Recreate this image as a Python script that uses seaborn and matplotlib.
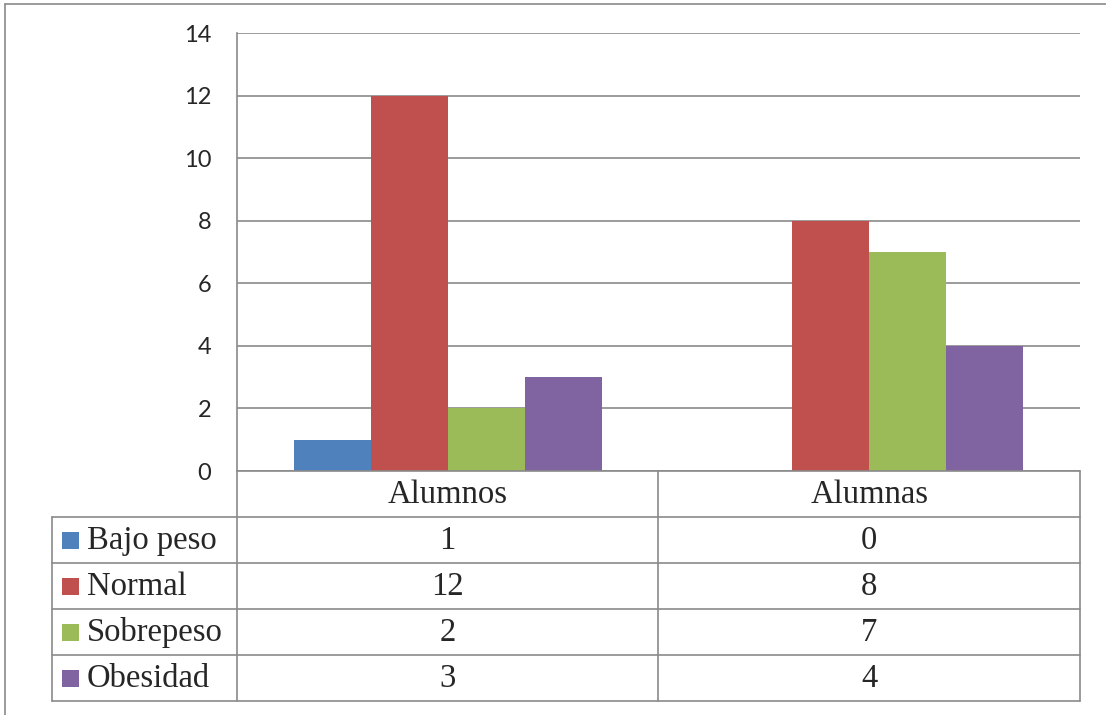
import matplotlib
matplotlib.use("Agg")
import matplotlib.pyplot as plt
from matplotlib.lines import Line2D
from matplotlib.patches import Rectangle
import matplotlib.transforms as mtransforms
import seaborn as sns
import pandas as pd

# Data
groups = ["Alumnos", "Alumnas"]
categories = ["Bajo peso", "Normal", "Sobrepeso", "Obesidad"]
alumnos = [1, 12, 2, 3]
alumnas = [0, 8, 7, 4]
colors = ["#4F81BD", "#C0504D", "#9BBB59", "#8064A2"]
yticks = [0, 2, 4, 6, 8, 10, 12, 14]

df = pd.DataFrame({
    "grupo": [g for g in groups for _ in categories],
    "categoria": categories * len(groups),
    "valor": alumnos + alumnas,
})

sns.set_style("white")
W, H = 1106, 715
fig = plt.figure(figsize=(W / 100, H / 100), dpi=100)

# pixel layout helpers
def fx(x):
    return x / W

def fy(y):
    return 1 - y / H

x0, x1 = 237, 1080
y_top, y_base = 33, 471
ax = fig.add_axes([fx(x0), fy(y_base), fx(x1) - fx(x0), fy(y_top) - fy(y_base)])

grid_c = "#8A8A8A"
lw = 1.2

sns.barplot(data=df, x="grupo", y="valor", hue="categoria", order=groups,
            hue_order=categories, palette=colors, width=0.73, dodge=True,
            saturation=1, linewidth=0, legend=False, ax=ax, zorder=3)

ax.set_xlim(-0.5, 1.5)
ax.set_ylim(0, 14)
ax.set_yticks(yticks)
ax.set_yticklabels([str(t) for t in yticks], fontfamily="Lato", fontsize=17)
ax.set_xticks([])
ax.set_xlabel("")
ax.set_ylabel("")
ax.tick_params(axis="y", length=0, pad=18.5)
ax.yaxis.grid(True, color=grid_c, linewidth=lw)
ax.set_axisbelow(True)
for s in ["top", "right", "bottom"]:
    ax.spines[s].set_visible(False)
ax.spines["left"].set_color(grid_c)
ax.spines["left"].set_linewidth(lw)

# Data table under the chart
row_y = [471, 517, 563, 609, 655, 701]
label_x0 = 52
col_split = 658

def hline(y, xa, xb):
    fig.add_artist(Line2D([fx(xa), fx(xb)], [fy(y), fy(y)], color=grid_c,
                          linewidth=lw, transform=fig.transFigure))

def vline(x, ya, yb):
    fig.add_artist(Line2D([fx(x), fx(x)], [fy(ya), fy(yb)], color=grid_c,
                          linewidth=lw, transform=fig.transFigure))

hline(row_y[0], x0, x1)
for y in row_y[1:]:
    hline(y, label_x0, x1)
vline(label_x0, row_y[1], row_y[-1])
vline(x0, y_base, row_y[-1])
vline(col_split, row_y[0], row_y[-1])
vline(x1, row_y[0], row_y[-1])

# outer chart frame
fig.add_artist(Line2D([fx(5), fx(1106)], [fy(4), fy(4)], color=grid_c,
                      linewidth=lw, transform=fig.transFigure))
fig.add_artist(Line2D([fx(5), fx(5)], [fy(4), fy(715)], color=grid_c,
                      linewidth=lw, transform=fig.transFigure))

serif = "Liberation Serif"
tsize = 23.5
# column x from the axis scale, row y from figure
blend = mtransforms.blended_transform_factory(ax.transData, fig.transFigure)

for i, g in enumerate(groups):
    yc = (row_y[0] + row_y[1]) / 2 + 1
    fig.text(i, fy(yc), g, transform=blend, ha="center", va="center",
             fontfamily=serif, fontsize=tsize)

values = [alumnos, alumnas]
for r, cat in enumerate(categories):
    yc = (row_y[r + 1] + row_y[r + 2]) / 2
    fig.add_artist(Rectangle((fx(62), fy(yc + 8.5)), fx(17), 17 / H,
                             facecolor=colors[r], edgecolor="none",
                             transform=fig.transFigure))
    fig.text(fx(87), fy(yc + 1), cat, ha="left", va="center",
             fontfamily=serif, fontsize=tsize)
    for i in range(len(groups)):
        fig.text(i, fy(yc + 1), str(values[i][r]), transform=blend,
                 ha="center", va="center", fontfamily=serif, fontsize=tsize)

fig.savefig("out.png", dpi=100, facecolor="white")
